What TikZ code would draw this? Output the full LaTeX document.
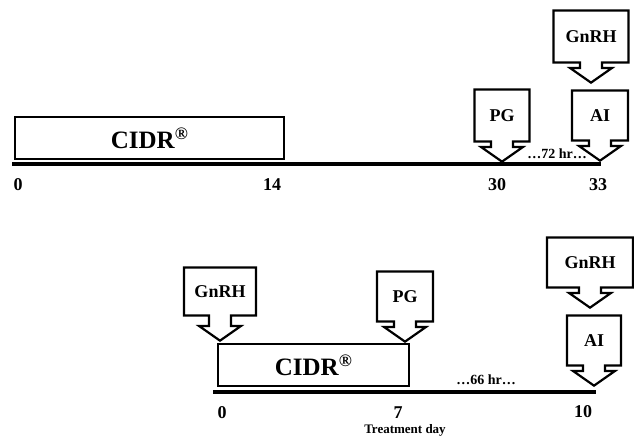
\documentclass[tikz,border=0pt]{standalone}
\usepackage{fontspec}
\setmainfont{Liberation Serif}
\usetikzlibrary{shapes.arrows, positioning}

\tikzset{
  callout/.style={arrow box, draw, line width=2.2pt, fill=white, inner sep=0pt,
    minimum height=50pt, arrow box arrows={south:19pt},
    arrow box shaft width=22pt, arrow box head extend=10pt, arrow box tip angle=110,
    anchor=south arrow tip, font=\bfseries\fontsize{18}{20}\selectfont},
  pump/.style={draw, line width=2.2pt, inner sep=0pt, minimum height=42pt,
    anchor=south west, font=\bfseries\fontsize{25}{28}\selectfont},
  day/.style={font=\bfseries\fontsize{18}{20}\selectfont},
  gap/.style={font=\bfseries\fontsize{14}{16}\selectfont},
  timeline/.style={line width=4pt}
}

\begin{document}
\begin{tikzpicture}[x=1pt, y=-1pt]
  \useasboundingbox (0,0) rectangle (634,436);

  % first protocol
  \coordinate (A0) at (12,164);
  \coordinate (A33) at (601,164);
  \draw[timeline] (A0) -- (A33);
  \node[pump, minimum width=269pt] (cidrA) at (14,160) {CIDR\textsuperscript{®}};
  \node[callout, minimum width=55pt, minimum height=52pt] (pgA) at (502,163) {PG};
  \node[callout, minimum width=56pt] (aiA) at (600,162) {AI};
  \node[callout, minimum width=75pt, minimum height=52pt] (gnrhA) at (591,84) {GnRH};
  \node[gap] (hrA) at (557,154) {…72 hr…};
  \node[day] (dA0) at (18,185) {0};
  \node[day] (dA14) at (272,185) {14};
  \node[day] (dA30) at (497,185) {30};
  \node[day] (dA33) at (598,185) {33};

  % second protocol
  \coordinate (B0) at (213,392);
  \coordinate (B10) at (596,392);
  \draw[timeline] (B0) -- (B10);
  \node[pump, minimum width=191pt] (cidrB) at (217,387) {CIDR\textsuperscript{®}};
  \node[callout, minimum width=72pt, minimum height=48pt, arrow box arrows={south:24pt}]
    (gnrhB) at (220,342) {GnRH};
  \node[callout, minimum width=56pt] (pgB) at (405,343) {PG};
  \node[callout, minimum width=54pt] (aiB) at (594,387) {AI};
  \node[callout, minimum width=86pt] (gnrhC) at (590,309) {GnRH};
  \node[gap] (hrB) at (486,380) {…66 hr…};
  \node[day] (dB0) at (222,413) {0};
  \node[day] (dB7) at (398,413) {7};
  \node[day] (dB10) at (583,412) {10};
  \node[font=\bfseries\fontsize{13}{15}\selectfont] (axis) at (405,430) {Treatment day};
\end{tikzpicture}
\end{document}
